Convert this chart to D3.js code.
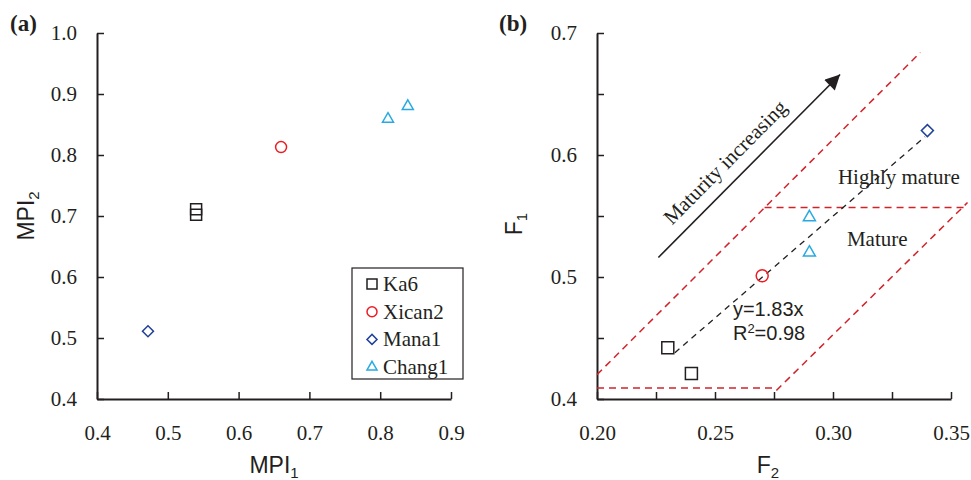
<!DOCTYPE html>
<html>
<head>
<meta charset="utf-8">
<script src="https://cdn.jsdelivr.net/npm/d3@7"></script>
<style>
  body { margin: 0; background: #fff; }
  svg { display: block; }
  .tick text { font-family: "Liberation Serif", serif; font-size: 21px; fill: #231f20; }
  .tick line { stroke: #231f20; stroke-width: 1.5; }
  .domain { stroke: #231f20; stroke-width: 2; }
</style>
</head>
<body>
<script>
// ---- data ----
var seriesNames = ["Ka6", "Xican2", "Mana1", "Chang1"];

// panel (a): MPI1 vs MPI2
var ka6A    = [[0.54, 0.711], [0.54, 0.702]];
var xican2A = [[0.66, 0.813]];
var mana1A  = [[0.472, 0.511]];
var chang1A = [[0.811, 0.859], [0.839, 0.880]];

// panel (b): F2 vs F1
var ka6B    = [[0.23, 0.442], [0.24, 0.421]];
var xican2B = [[0.27, 0.501]];
var mana1B  = [[0.34, 0.620]];
var chang1B = [[0.29, 0.520], [0.29, 0.549]];

var fitLine     = [[0.233, 0.438], [0.339, 0.615]];
var upperBound  = [[0.200, 0.420], [0.337, 0.684]];
var lowerFlat   = [[0.200, 0.409], [0.276, 0.409]];
var lowerBound  = [[0.276, 0.407], [0.357, 0.561]];
var matureLimit = [[0.271, 0.557], [0.357, 0.557]];
var arrowLine   = [[0.226, 0.516], [0.303, 0.666]];

var ticksAX = [0.4, 0.5, 0.6, 0.7, 0.8, 0.9];
var ticksAY = [0.4, 0.5, 0.6, 0.7, 0.8, 0.9, 1.0];
var ticksBX = [0.2, 0.225, 0.25, 0.275, 0.3, 0.325, 0.35];
var ticksBY = [0.4, 0.45, 0.5, 0.55, 0.6, 0.65, 0.7];

// ---- setup ----
var W = 971, H = 480;
var ink = "#231f20";
var serif = "Liberation Serif, serif", sans = "Liberation Sans, Arial, sans-serif";
var colors = { Ka6: "#231f20", Xican2: "#ed1c24", Mana1: "#21409a", Chang1: "#27aae1" };
var shapes = { Ka6: "square", Xican2: "circle", Mana1: "diamond", Chang1: "triangle" };

var svg = d3.select("body").append("svg").attr("width", W).attr("height", H);

var xA = d3.scaleLinear().domain([0.4, 0.9]).range([97, 451]);
var yA = d3.scaleLinear().domain([0.4, 1.0]).range([399, 33]);
var xB = d3.scaleLinear().domain([0.2, 0.35]).range([597, 951]);
var yB = d3.scaleLinear().domain([0.4, 0.7]).range([399, 33]);

function markerPath(kind, s) {
  if (kind == "square") return d3.symbol(d3.symbolSquare, s * s)();
  if (kind == "circle") return d3.symbol(d3.symbolCircle, Math.PI * s * s / 4)();
  if (kind == "diamond") return d3.symbol(d3.symbolSquare, s * s / 2)();
  return d3.symbol(d3.symbolTriangle, s * s * Math.sqrt(3) / 4)();
}

function drawMarker(g, name, cx, cy, s) {
  var p = g.append("path")
    .attr("d", markerPath(shapes[name], s))
    .attr("fill", "none")
    .attr("stroke", colors[name])
    .attr("stroke-width", 1.5);
  if (shapes[name] == "diamond")
    p.attr("transform", "translate(" + cx + "," + cy + ") rotate(45)");
  else
    p.attr("transform", "translate(" + cx + "," + cy + ")");
}

function axes(x, y, tx, ty, fx, fy) {
  svg.append("g")
    .attr("transform", "translate(0," + y.range()[0] + ")")
    .call(d3.axisBottom(x).tickValues(tx).tickSizeInner(-7).tickSizeOuter(0)
      .tickPadding(26).tickFormat(fx));
  svg.append("g")
    .attr("transform", "translate(" + x.range()[0] + ",0)")
    .call(d3.axisLeft(y).tickValues(ty).tickSizeInner(-7).tickSizeOuter(0)
      .tickPadding(20).tickFormat(fy));
}

function axisTitle(x, y, main, sub, rotate) {
  var t = svg.append("text")
    .attr("text-anchor", "middle")
    .attr("font-family", sans)
    .attr("font-size", 23)
    .attr("fill", ink)
    .attr("transform", "translate(" + x + "," + y + ")" + (rotate ? " rotate(-90)" : ""));
  t.append("tspan").text(main);
  t.append("tspan").attr("font-size", 15).attr("dy", 5).text(sub);
}

function panelLabel(x, y, s) {
  svg.append("text").attr("x", x).attr("y", y)
    .attr("font-family", serif).attr("font-weight", "bold")
    .attr("font-size", 23).attr("fill", ink).text(s);
}

function note(x, y, s, family, size) {
  return svg.append("text").attr("x", x).attr("y", y)
    .attr("font-family", family).attr("font-size", size)
    .attr("fill", ink).text(s);
}

// ================= panel (a) =================
axes(xA, yA, ticksAX, ticksAY, d3.format(".1f"), d3.format(".1f"));

var dataA = { Ka6: ka6A, Xican2: xican2A, Mana1: mana1A, Chang1: chang1A };
var gA = svg.append("g");
seriesNames.forEach(function(n) {
  dataA[n].forEach(function(d) { drawMarker(gA, n, xA(d[0]), yA(d[1]), 11); });
});

axisTitle(274, 473, "MPI", "1", false);
axisTitle(34, 216, "MPI", "2", true);
panelLabel(10, 31, "(a)");

// legend
var leg = svg.append("g").attr("transform", "translate(352,268)");
leg.append("rect").attr("width", 111).attr("height", 111)
  .attr("fill", "#fff").attr("stroke", ink).attr("stroke-width", 1.2);
seriesNames.forEach(function(n, i) {
  var cy = 16 + i * 27.7;
  drawMarker(leg, n, 20, cy, 10);
  leg.append("text").attr("x", 31).attr("y", cy + 7)
    .attr("font-family", serif).attr("font-size", 21)
    .attr("fill", ink).text(n);
});

// ================= panel (b) =================
axes(xB, yB, ticksBX, ticksBY,
  function(d) { return Math.abs(d * 20 - Math.round(d * 20)) < 1e-6 ? d3.format(".2f")(d) : ""; },
  function(d) { return Math.abs(d * 10 - Math.round(d * 10)) < 1e-6 ? d3.format(".1f")(d) : ""; });

var line = d3.line().x(function(d) { return xB(d[0]); }).y(function(d) { return yB(d[1]); });

[upperBound, lowerFlat, lowerBound, matureLimit].forEach(function(seg) {
  svg.append("path").attr("d", line(seg)).attr("fill", "none")
    .attr("stroke", "#d2232a").attr("stroke-width", 1.5).attr("stroke-dasharray", "7,5");
});

svg.append("path").attr("d", line(fitLine)).attr("fill", "none")
  .attr("stroke", ink).attr("stroke-width", 1.3).attr("stroke-dasharray", "6,5");

svg.append("defs").append("marker")
  .attr("id", "head").attr("viewBox", "0 0 10 10")
  .attr("refX", 10).attr("refY", 5)
  .attr("markerWidth", 17).attr("markerHeight", 15)
  .attr("markerUnits", "userSpaceOnUse").attr("orient", "auto")
  .append("path").attr("d", "M0,0 L10,5 L0,10 Z").attr("fill", ink);

svg.append("path").attr("d", line(arrowLine)).attr("fill", "none")
  .attr("stroke", ink).attr("stroke-width", 1.6).attr("marker-end", "url(#head)");

var dataB = { Ka6: ka6B, Xican2: xican2B, Mana1: mana1B, Chang1: chang1B };
var gB = svg.append("g");
seriesNames.forEach(function(n) {
  dataB[n].forEach(function(d) { drawMarker(gB, n, xB(d[0]), yB(d[1]), 12); });
});

// annotations
var a0 = [xB(arrowLine[0][0]), yB(arrowLine[0][1])];
var a1 = [xB(arrowLine[1][0]), yB(arrowLine[1][1])];
var ang = Math.atan2(a1[1] - a0[1], a1[0] - a0[0]) * 180 / Math.PI;
svg.append("text")
  .attr("transform", "translate(" + xB(0.2564) + "," + yB(0.590) + ") rotate(" + ang + ")")
  .attr("text-anchor", "middle")
  .attr("font-family", serif).attr("font-size", 21)
  .attr("fill", ink).text("Maturity increasing");

note(xB(0.3021), yB(0.5762), "Highly mature", serif, 21);
note(xB(0.3059), yB(0.5254), "Mature", serif, 21);
note(xB(0.2576), yB(0.4680), "y=1.83x", sans, 20);
var r2 = note(xB(0.2576), yB(0.4480), "", sans, 20);
r2.append("tspan").text("R");
r2.append("tspan").attr("font-size", 13).attr("dy", -7).text("2");
r2.append("tspan").attr("dy", 7).text("=0.98");

axisTitle(768, 473, "F", "2", false);
axisTitle(522, 224, "F", "1", true);
panelLabel(499, 31, "(b)");
</script>
</body>
</html>
